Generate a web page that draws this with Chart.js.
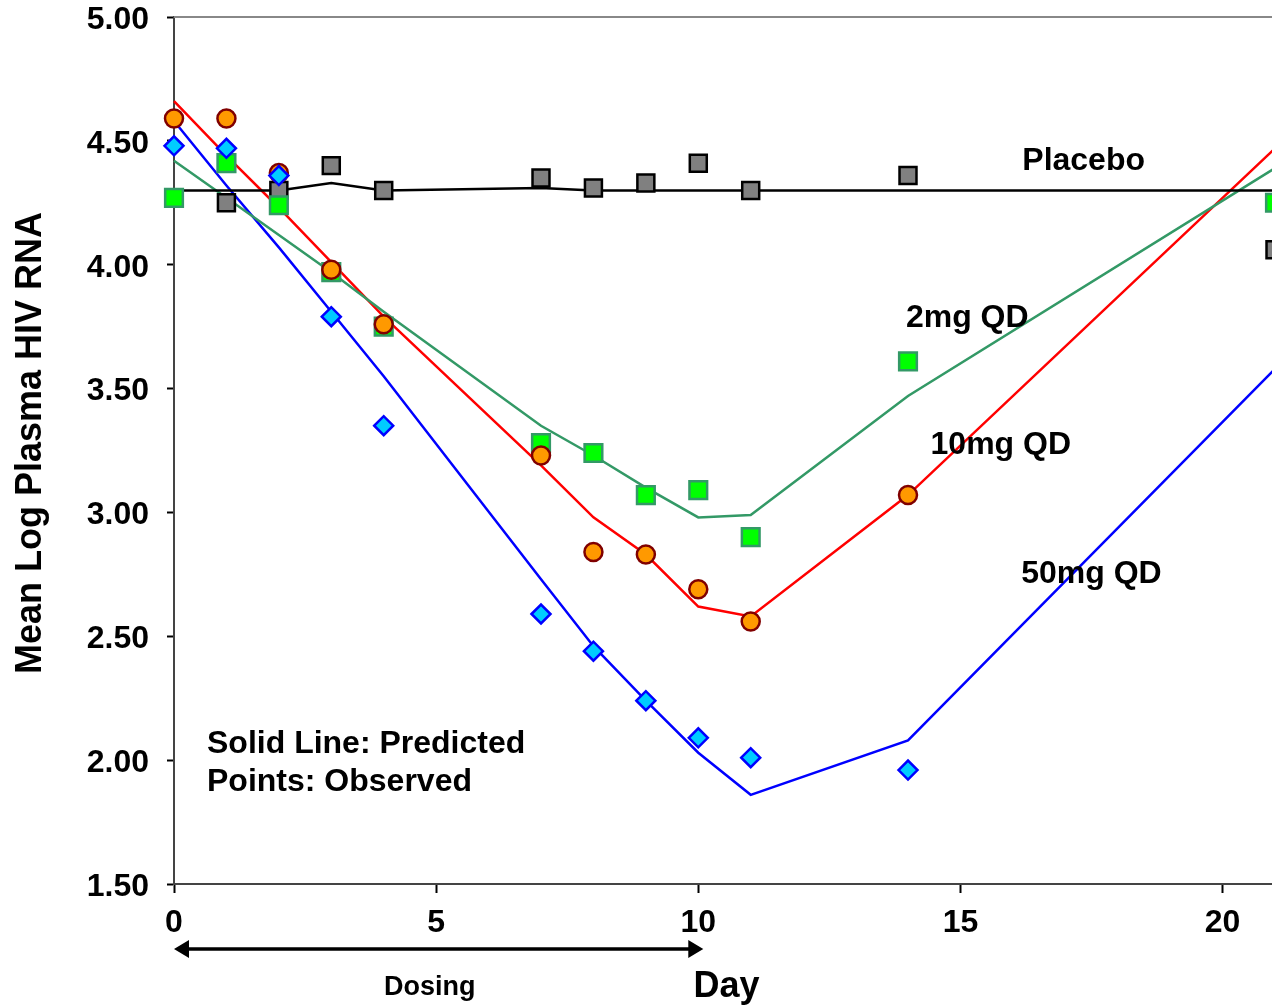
<!DOCTYPE html>
<html>
<head>
<meta charset="utf-8">
<script src="https://cdn.jsdelivr.net/npm/chart.js@4"></script>
<style>
html, body { margin: 0; padding: 0; background: #fff; overflow: hidden; }
#wrap { width: 1272px; height: 1007px; overflow: hidden; }
</style>
</head>
<body>
<div id="wrap"><canvas id="chart" width="1290" height="1007"></canvas></div>
<script>
// days of sampling
var days = [0, 1, 2, 3, 4, 7, 8, 9, 10, 11, 14, 21];

// predicted (solid lines)
var placeboPred = [4.30, 4.30, 4.30, 4.33, 4.30, 4.31, 4.30, 4.30, 4.30, 4.30, 4.30, 4.30];
var mg2Pred     = [4.42, 4.27, 4.12, 3.97, 3.81, 3.35, 3.23, 3.10, 2.98, 2.99, 3.47, 4.39];
var mg10Pred    = [4.66, 4.44, 4.23, 4.01, 3.79, 3.19, 2.98, 2.83, 2.62, 2.58, 3.07, 4.47];
var mg50Pred    = [4.58, 4.32, 4.07, 3.81, 3.55, 2.73, 2.46, 2.24, 2.03, 1.86, 2.08, 3.58];

// observed (points)
var placeboObs = [4.27, 4.25, 4.30, 4.40, 4.30, 4.35, 4.31, 4.33, 4.41, 4.30, 4.36, 4.06];
var mg2Obs     = [4.27, 4.41, 4.24, 3.97, 3.75, 3.28, 3.24, 3.07, 3.09, 2.90, 3.61, 4.25];
var mg10Obs    = [4.59, 4.59, 4.37, 3.98, 3.76, 3.23, 2.84, 2.83, 2.69, 2.56, 3.07];
var mg50Obs    = [4.48, 4.47, 4.36, 3.79, 3.35, 2.59, 2.44, 2.24, 2.09, 2.01, 1.96];

var yTicks = [1.5, 2.0, 2.5, 3.0, 3.5, 4.0, 4.5, 5.0];

var FONT = "'Liberation Sans', Arial, sans-serif";

function pts(vals) {
    var out = [];
    for (var i = 0; i < vals.length; i++) {
        out.push({ x: days[i], y: vals[i] });
    }
    return out;
}

function lineSet(vals, color) {
    return {
        data: pts(vals), showLine: true, borderColor: color, borderWidth: 2.5,
        pointRadius: 0, tension: 0, order: 10, clip: false
    };
}

function pointSet(vals, style, radius, fill, edge, order) {
    return {
        data: pts(vals), showLine: false, pointStyle: style, pointRadius: radius,
        pointHoverRadius: radius, backgroundColor: fill, borderColor: edge,
        borderWidth: 2.5, order: order, clip: false
    };
}

// texts placed in data units
var labels = [
    { text: 'Placebo', x: 16.18, y: 4.42, size: 32 },
    { text: '2mg QD', x: 13.96, y: 3.785, size: 32 },
    { text: '10mg QD', x: 14.43, y: 3.272, size: 32 },
    { text: '50mg QD', x: 16.16, y: 2.751, size: 32 },
    { text: 'Solid Line: Predicted', x: 0.63, y: 2.065, size: 32 },
    { text: 'Points: Observed', x: 0.63, y: 1.912, size: 32 }
];

var extras = {
    id: 'extras',
    afterDraw: function(chart) {
        var ctx = chart.ctx;
        var xs = chart.scales.x, ys = chart.scales.y, area = chart.chartArea;
        ctx.save();
        // top frame line
        ctx.strokeStyle = '#888';
        ctx.lineWidth = 2;
        ctx.beginPath();
        ctx.moveTo(area.left, area.top);
        ctx.lineTo(area.right, area.top);
        ctx.stroke();

        ctx.fillStyle = '#000';
        ctx.textBaseline = 'middle';
        ctx.textAlign = 'left';
        labels.forEach(function(l) {
            ctx.font = 'bold ' + l.size + 'px ' + FONT;
            ctx.fillText(l.text, xs.getPixelForValue(l.x), ys.getPixelForValue(l.y));
        });

        // dosing arrow, day 0 to day 10
        var ay = area.bottom + 65;
        var x0 = xs.getPixelForValue(0), x1 = xs.getPixelForValue(10) + 5;
        ctx.strokeStyle = '#000';
        ctx.lineWidth = 3.5;
        ctx.beginPath();
        ctx.moveTo(x0 + 10, ay);
        ctx.lineTo(x1 - 10, ay);
        ctx.stroke();
        ctx.beginPath();
        ctx.moveTo(x0, ay); ctx.lineTo(x0 + 15, ay - 9); ctx.lineTo(x0 + 15, ay + 9); ctx.closePath();
        ctx.moveTo(x1, ay); ctx.lineTo(x1 - 15, ay - 9); ctx.lineTo(x1 - 15, ay + 9); ctx.closePath();
        ctx.fill();

        ctx.font = 'bold 27px ' + FONT;
        ctx.textAlign = 'center';
        ctx.fillText('Dosing', xs.getPixelForValue(4.88), area.bottom + 104);
        ctx.font = 'bold 36px ' + FONT;
        ctx.textAlign = 'left';
        ctx.fillText('Day', xs.getPixelForValue(9.91), area.bottom + 103);

        // y title
        ctx.translate(31, 443);
        ctx.rotate(-Math.PI / 2);
        ctx.textAlign = 'center';
        ctx.font = 'bold 36px ' + FONT;
        ctx.fillText('Mean Log Plasma HIV RNA', 0, 0);
        ctx.restore();
    }
};

var ctx = document.getElementById('chart').getContext('2d');
var chart = new Chart(ctx, {
    type: 'scatter',
    data: {
        datasets: [
            lineSet(placeboPred, '#000000'),
            lineSet(mg2Pred, '#339966'),
            lineSet(mg10Pred, '#FF0000'),
            lineSet(mg50Pred, '#0000FF'),
            pointSet(placeboObs, 'rect', 12, '#808080', '#000000', 4),
            pointSet(mg2Obs, 'rect', 12.5, '#00FF00', '#339966', 3),
            pointSet(mg10Obs, 'circle', 9, '#FF9900', '#800000', 2),
            pointSet(mg50Obs, 'rectRot', 9.5, '#00CCFF', '#0000FF', 1)
        ]
    },
    options: {
        responsive: false,
        animation: false,
        layout: { padding: { left: 0, right: 10, top: 17, bottom: 0 } },
        plugins: { legend: { display: false }, tooltip: { enabled: false } },
        scales: {
            x: {
                type: 'linear', min: 0, max: 21,
                ticks: {
                    stepSize: 5, includeBounds: false, maxRotation: 0, padding: 11,
                    color: '#000', font: { family: FONT, size: 32, weight: 'bold' }
                },
                grid: { drawOnChartArea: false, tickLength: 9, tickColor: '#000', tickWidth: 2 },
                border: { color: '#444', width: 2 },
                afterFit: function(s) { s.height = 123; s.paddingLeft = 0; s.paddingRight = 0; }
            },
            y: {
                type: 'linear', min: 1.5, max: 5,
                afterBuildTicks: function(s) {
                    s.ticks = yTicks.map(function(v) { return { value: v }; });
                },
                ticks: {
                    padding: 18, labelOffset: 3, color: '#000',
                    font: { family: FONT, size: 32, weight: 'bold' },
                    callback: function(v) { return v.toFixed(2); }
                },
                grid: { drawOnChartArea: false, tickLength: 7, tickColor: '#000', tickWidth: 2 },
                border: { color: '#444', width: 2 },
                afterFit: function(s) { s.width = 174; s.paddingTop = 0; s.paddingBottom = 0; }
            }
        }
    },
    plugins: [extras]
});
</script>
</body>
</html>
